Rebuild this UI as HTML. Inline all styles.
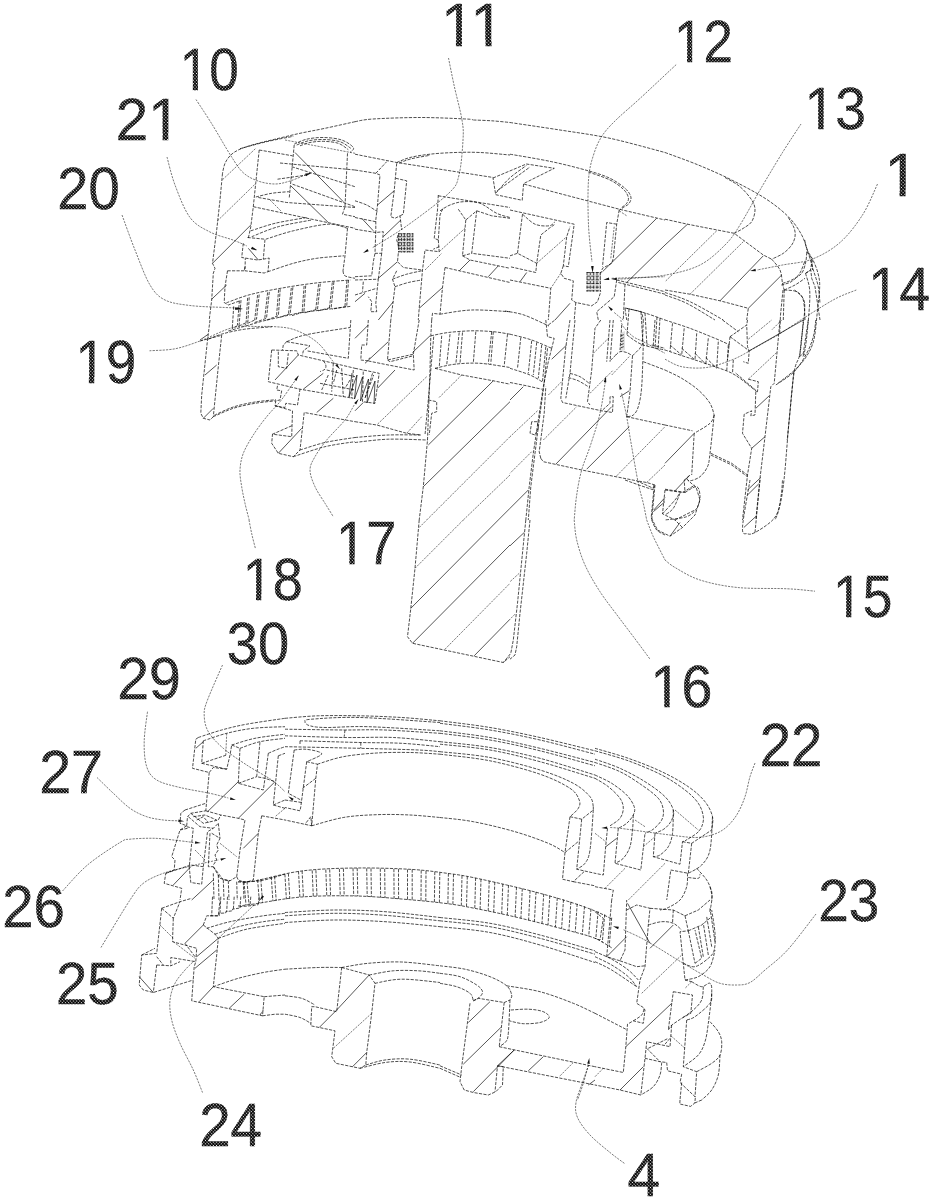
<!DOCTYPE html><html><head><meta charset="utf-8"><title>Figure</title><style>
html,body{margin:0;padding:0;background:#fff}body{width:933px;height:1200px;overflow:hidden}svg{display:block}
.l{fill:none;stroke:#000;stroke-opacity:.82;stroke-width:.85;stroke-dasharray:3.2 1.3}.h{fill:none;stroke:#000;stroke-opacity:.74;stroke-width:.9}.g{fill:#000;fill-opacity:.12;stroke:none}.t{fill:none;stroke:#000;stroke-opacity:.62;stroke-width:.85;stroke-dasharray:2.2 1.1}.a{fill:#111;stroke:none}
text{font-family:"Liberation Sans",sans-serif;fill:url(#d);stroke:url(#d);stroke-width:.5}
</style></head><body>
<svg width="933" height="1200" viewBox="0 0 933 1200">
<defs><pattern id="d" width="2.4" height="2.4" patternUnits="userSpaceOnUse" patternTransform="rotate(45)"><rect width="2.4" height="2.4" fill="#000"/><circle cx="1.2" cy="1.2" r="0.68" fill="#fff"/></pattern></defs>
<path class="t" d="M196 99.5 C198.8 103.8 206.7 115.6 212.5 125 C218.3 134.4 225.9 148.1 231 156 C236.1 163.9 238.5 168.3 243 172.5 C247.5 176.7 252.7 179.1 258 181 C263.3 182.9 269.7 184 275 184 C280.3 184 285 182.5 290 181 C295 179.5 302.5 176 305 175 M167 157 C168.3 161.7 171.2 174.9 175 185 C178.8 195.1 184.2 209.7 190 217.5 C195.8 225.3 202.8 228.2 210 232 C217.2 235.8 226.8 237.7 233 240 C239.2 242.3 244.7 245 247 246 M122 215 C124.2 220.8 130.3 238.3 135 250 C139.7 261.7 145 276.7 150 285 C155 293.3 158.3 296.6 165 300 C171.7 303.4 180 304.2 190 305.5 C200 306.8 217 307.1 225 307.5 C233 307.9 235.8 307.9 238 308 M448.5 58 C449.4 62.5 451.8 74.7 454 85 C456.2 95.3 460.5 110.8 462 120 C463.5 129.2 463.5 130.8 463 140 C462.5 149.2 461.3 166.2 459 175 C456.7 183.8 457.5 184.7 449 193 C440.5 201.3 420.8 215.8 408 225 C395.2 234.2 378 244.2 372 248 M678.5 62.5 C672.2 68.3 651.4 87.9 641 97.5 C630.6 107.1 622.5 113.6 616 120 C609.5 126.4 605.8 130.2 602 136 C598.2 141.8 595.8 147.7 593.5 155 C591.2 162.3 589.3 168.3 588.5 180 C587.7 191.7 587.9 211.3 588.5 225 C589.1 238.7 591.4 255.8 592 262 M801 124 C797.9 128.8 789.3 141.5 782.5 152.5 C775.7 163.5 767.1 177.9 760 190 C752.9 202.1 745.8 215.8 740 225 C734.2 234.2 731.7 238.3 725 245 C718.3 251.7 709.8 260 700 265 C690.2 270 677.7 272.8 666 275 C654.3 277.2 638 277.8 630 278.5 C622 279.2 620 278.9 618 279 M877.5 184 C875 189.2 868.8 205.2 862.5 215 C856.2 224.8 848.3 235.2 840 242.5 C831.7 249.8 822.1 255.2 812.5 259 C802.9 262.8 791.8 263.2 782.5 265 C773.2 266.8 761.2 269.2 757 270 M149.5 350.8 C153.8 350.4 166.6 350.4 175 348.8 C183.4 347.1 190.3 344.5 200 341 C209.7 337.5 223.3 329.9 233 327.5 C242.7 325.1 251 326.6 258 326.5 C265 326.4 269.3 326.3 275 326.7 C280.7 327.1 286.5 327.4 292 329 C297.5 330.6 303.3 333.3 308 336 C312.7 338.7 316.3 341.4 320 345 C323.7 348.6 327.5 354.3 330 357.5 C332.5 360.7 334.2 362.9 335 364 M588.8 1065 C587.7 1067.9 584.6 1076.2 582.5 1082.5 C580.4 1088.8 576.8 1096.7 576 1102.5 C575.2 1108.3 575.2 1112.1 577.5 1117.5 C579.8 1122.9 584.6 1129.2 590 1135 C595.4 1140.8 604.2 1147.7 610 1152.5 C615.8 1157.3 622.5 1161.9 625 1163.8 M222.5 179.7 L255.8 148.3 M217.5 220.8 L255 184.2 M285 140 L355 153.3 M270 200 L281.7 211.7 M439.2 251.7 L465 228.3 M425 270 L441.7 253.3 M619.2 210.8 L626.7 215.8 M614.2 226.7 L610.8 258.3 M536.7 263.3 L566.7 236.7 M560.8 273.3 L550.8 288.3 M611.7 278.3 L665 276.7 M614.2 312.5 L623.3 320 M716.7 230.8 L665 281.7 M743.3 241.7 L690 294.2 M781.7 320 L771.7 330 M298.3 375.8 C297.1 377.6 293.9 382.4 290.8 386.7 C287.8 391 284 396.7 280 401.7 C276 406.7 271.1 411.1 266.7 416.7 C262.2 422.2 257.2 428.9 253.3 435 C249.4 441.1 245.6 447.5 243.3 453.3 C241.1 459.2 240.3 464.4 240 470 C239.7 475.6 240.8 481.1 241.7 486.7 C242.5 492.2 243.8 497.8 245 503.3 C246.2 508.9 248.5 517.2 249.2 520 M354.2 405 C352.6 407.5 349.6 414.2 345 420 C340.4 425.8 331.7 433.9 326.7 440 C321.7 446.1 317.8 451.7 315 456.7 C312.2 461.7 310 465 310 470 C310 475 312.5 481.1 315 486.7 C317.5 492.2 321.9 498.3 325 503.3 C328.1 508.3 331.9 514.4 333.3 516.7 M461.7 375 L438.3 398.3 M510 436.7 L426.7 520 M510 475 L463.3 520 M426.7 376.7 L376.7 425 M421.7 416.7 L406.7 433.3 M537.5 410.8 L510 436.7 M531.7 451.7 L510 473.3 M620.8 320 C621.2 321.1 621.2 323.9 623.3 326.7 C625.4 329.4 630 334.2 633.3 336.7 C636.7 339.2 638.1 338.9 643.3 341.7 C648.6 344.4 661.4 351.4 665 353.3 M548.3 395 L561.7 381.7 M543.3 440 L576.7 406.7 M616.7 475.8 L665 426.7 M646.7 482.5 L665 465 M590 393.3 L613.3 370 M611.7 375 L630 355.8 M593.3 353.3 L610 336.7 M605.8 378.3 C604.9 384.2 602.6 401.9 600 413.3 C597.4 424.7 593.1 437.2 590 446.7 C586.9 456.1 583.9 461.9 581.7 470 C579.4 478.1 577.9 486.7 576.7 495 C575.4 503.3 574.6 515.8 574.2 520 M621.7 393.3 C622.5 397.2 625 407.8 626.7 416.7 C628.3 425.6 629.7 435.6 631.7 446.7 C633.6 457.8 636.4 473.9 638.3 483.3 C640.3 492.8 641.9 497.2 643.3 503.3 C644.7 509.4 646.1 517.2 646.7 520 M665 359.2 C667.8 360.4 674.7 365.3 681.7 366.7 C688.6 368.1 698.3 368.6 706.7 367.5 C715 366.4 724.7 362.6 731.7 360 C738.6 357.4 745.6 353.1 748.3 351.7 M748.3 339.2 L771.7 320 M748.3 379.2 L776.7 352.5 M419.2 527.5 L426.7 520 M415 568.3 L463.3 520 M445 649.2 L510 583.3 M519.2 573.3 L510 581.7 M515 614.2 L510 619.2 M574.2 520 C574.6 523.3 574.9 532.5 576.7 540 C578.5 547.5 581.1 556.4 585 565 C588.9 573.6 594.4 583.1 600 591.7 C605.6 600.3 611.9 608.1 618.3 616.7 C624.7 625.3 633.1 636.2 638.3 643.3 C643.6 650.4 648.1 656.5 650 659.2 M646.7 520 C647.8 522.8 650.3 530 653.3 536.7 C656.4 543.3 663.1 556.1 665 560 M665 560 C666.7 561.2 669.2 564.2 675 567.5 C680.8 570.8 689.6 576.7 700 580 C710.4 583.3 722.9 586 737.5 587.5 C752.1 589 774.6 588.1 787.5 588.8 C800.4 589.4 810.4 590.8 815 591.2 M856.3 290 C853 291.4 843.8 294.4 836.3 298.3 C828.8 302.2 821.1 307.2 811.3 313.3 C801.6 319.4 783.6 331.4 778 335 M778 335 L748 351.7 M249 520 C249.5 522.5 250.9 530.2 252 535 C253.1 539.8 254.9 546.5 255.5 548.8 M147.5 711.7 C146.9 716.7 144.3 732.5 144.2 741.7 C144 750.8 144.6 760.3 146.7 766.7 C148.8 773.1 151.1 776.5 156.7 780 C162.2 783.5 171.1 785.3 180 787.5 C188.9 789.7 201.9 791.6 210 793.3 C218.1 795.1 225.3 797.2 228.3 798 M222.5 665 C220 670.8 210.6 691.7 207.5 700 C204.4 708.3 204 709.7 204.2 715 C204.3 720.3 205.1 726.1 208.3 731.7 C211.5 737.2 216.9 742.8 223.3 748.3 C229.7 753.9 238.6 759.7 246.7 765 C254.7 770.3 265.3 775.6 271.7 780 C278.1 784.4 282.8 789.7 285 791.7 M97 777.5 C99.6 780 107 787.4 112.5 792.5 C118 797.6 124.3 804.3 130 808.3 C135.7 812.4 141.1 814.7 146.7 816.7 C152.2 818.6 158.1 819.3 163.3 820 C168.6 820.7 175.8 820.7 178.3 820.8 M62.5 891 C66.7 886.7 77.9 873.1 87.5 865 C97.1 856.9 112.9 846.8 120 842.5 C127.1 838.2 124.2 839.9 130 839.2 C135.8 838.5 146.7 838.1 155 838.3 C163.3 838.6 173.6 840.1 180 840.8 C186.4 841.5 191.1 842.2 193.3 842.5 M101 947.5 C105.8 939.6 122.9 910.7 130 900 C137.1 889.3 137.8 887.8 143.3 883.3 C148.9 878.9 155.8 876.1 163.3 873.3 C170.8 870.6 180.6 868.6 188.3 866.7 C196.1 864.7 205 862.8 210 861.7 C215 860.6 216.9 860.3 218.3 860 M226.7 733.3 L225.8 755 M285 808.3 L275 816.7 M195 850 L205 860 M220 843.3 L236.7 856.7 M755 763 C754.2 765.3 751.7 771.1 750 776.7 C748.3 782.3 747.2 790.3 745 796.7 C742.8 803.1 740 809.7 736.7 815 C733.3 820.3 729.2 825 725 828.3 C720.8 831.7 716.7 833.5 711.7 835 C706.7 836.5 701.9 837.5 695 837.5 C688.1 837.5 678.3 836 670 835 C661.7 834 653.3 832.8 645 831.7 C636.7 830.6 625.8 829 620 828.3 C614.2 827.6 611.7 827.6 610 827.5 M595 833.3 L605.8 841.7 M635 820 L645 826.7 M675 810 L698.3 830 M643.3 846.7 L655 836.7 M625 868.3 L605 888.3 M665 863.3 L628.3 900 M202.5 1092.5 C201 1088.8 197.1 1078.2 193.3 1070 C189.6 1061.8 183.6 1051.7 180 1043.3 C176.4 1035 173.3 1027.2 171.7 1020 C170 1012.8 169.4 1006.1 170 1000 C170.6 993.9 172.5 988.3 175 983.3 C177.5 978.3 181.8 973.8 185 970 C188.2 966.2 192.6 962.4 194.2 960.8 M160 925 L173.3 938.3 M173.3 941.7 L195 958.3 M254.2 905 L218.3 938.3 M371.7 1013.3 L333.3 1048.3 M573.3 1062.5 L559.2 1076.7 M588.3 1065 C587.5 1068.1 585.1 1077.5 583.3 1083.3 C581.5 1089.2 578.5 1097.2 577.5 1100 M816 914 C811.2 920 796 940.7 787.5 950 C779 959.3 771.2 964.6 765 970 C758.8 975.4 754.7 980 750 982.5 C745.3 985 741.7 984.9 736.7 985 C731.7 985.1 725.6 985 720 983.3 C714.4 981.7 709.4 978.3 703.3 975 C697.2 971.7 690.3 967.5 683.3 963.3 C676.4 959.2 668.6 954.2 661.7 950 C654.7 945.8 648.1 941.7 641.7 938.3 C635.3 934.9 626.4 931.1 623.3 929.7 M641.7 993.3 L681.7 955 M685 1048.3 L670 1035 M595 1076.7 L603.3 1068.3 M691.7 981.7 L685 988.3"/>
<path class="a" d="M311 173 L305.1 173.8 L306 176.2Z M257 250 L252.1 246.7 L251.2 249Z M243 309 L237.4 307.2 L237.1 309.7Z M363 253 L368.7 251.3 L367.5 249.1Z M592.5 272 L593.5 266.1 L591 266.3Z M611 279 L616.8 280.2 L616.8 277.8Z M750 271 L755.9 271.3 L755.5 268.8Z M256.7 250.5 L252.1 246.7 L250.9 248.9Z M311.3 173.3 L305.4 173.6 L306 176Z M240.8 309.2 L235.2 307.2 L234.9 309.7Z M592.8 272.5 L593.6 266.6 L591.1 266.8Z M603.3 279.7 L609.3 280 L608.9 277.5Z M608 306 L611.1 311.1 L612.9 309.3Z M298.7 375.5 L294.4 379.6 L296.4 381Z M340 369.2 L337.2 363.9 L335.3 365.5Z M605.8 376.3 L603.8 381.9 L606.3 382.2Z M619.2 383.8 L619.6 389.7 L622 389Z M358.6 399 L354.2 402.9 L356.2 404.4Z M259.6 900.6 L264.1 896.7 L262.1 895.2Z M235.8 800 L230.5 797.3 L229.9 799.8Z M184.2 821.3 L178.5 819.6 L178.3 822.1Z M200.8 843 L195.2 841.3 L194.9 843.8Z M226.3 858 L220.4 858.4 L221.1 860.8Z M288.3 796.3 L292.2 800.8 L293.7 798.8Z M601.3 828 L607.2 828.9 L607.1 826.4Z M589.3 1058 L587.2 1063.5 L589.7 1063.9Z M613 926.2 L618.1 929.2 L618.9 926.8Z"/>
<path class="l" d="M355 121.7 C350 122.8 334.2 126.4 325 128.3 C315.8 130.3 308.3 131.5 300 133.3 C291.7 135.1 282.5 137.4 275 139.2 C267.5 141 260.8 142.5 255 144.2 C249.2 145.8 244 147.4 240 149.2 C236 151 233.3 152.6 230.8 155 C228.3 157.4 226.4 160.3 225 163.3 C223.6 166.4 222.9 171.7 222.5 173.3 M222.5 173.3 L220 200 L216.7 230 L212.5 263.3 L215 268.3 L213.3 273.3 L211.7 300 L209.2 320 M240 148.7 C244.4 147.5 257.8 143.7 266.7 141.7 C275.6 139.6 288.9 137.2 293.3 136.3 M259.2 150 L255.8 182.5 L253.3 206.7 L250.8 226.7 L248.3 238.3 M259.2 150 L292.5 155.8 M294.2 145 L290.8 181.7 L289.2 198.3 M294.2 144.2 C296.2 143.3 301.8 140.3 306.7 139.2 C311.5 138.1 317.5 137.4 323.3 137.5 C329.2 137.6 336.7 138.3 341.7 140 C346.7 141.7 351.9 145.4 353.3 147.5 C354.7 149.6 350.6 151.7 350 152.5 M296.7 145 C298.6 144.3 303.9 141.8 308.3 140.8 C312.8 139.9 318.1 139.4 323.3 139.5 C328.6 139.6 335.4 140.2 340 141.7 C344.6 143.1 349 147.2 350.8 148.3 M300 145.8 C301.7 145.3 306.1 143.2 310 142.5 C313.9 141.8 318.6 141.2 323.3 141.3 C328.1 141.5 334.2 141.9 338.3 143.3 C342.5 144.7 346.7 148.6 348.3 149.7 M347.5 153.3 L345 206.7 L342.5 214.2 L355 216.7 M280 163 L355 170 M277.5 179.2 L306.7 175 M291.7 166.7 L355 186.7 M292.5 184.2 L355 206.7 M255.8 197 C258.5 196.4 266.1 194.2 271.7 193.3 C277.2 192.4 286.2 191.9 289.2 191.7 M258.3 197.5 L286.7 202.5 L355 207.5 M253.3 206.7 L311.7 219.2 L355 228.3 M250.8 230.8 C254.9 229.6 265.7 225.6 275 223.3 C284.3 221.1 301.4 218.5 306.7 217.5 M251.7 236.7 C256.1 235 268.3 229.4 278.3 226.7 C288.3 223.9 306.1 221.1 311.7 220 M265.8 239.2 C270.4 237.8 282.9 233.3 293.3 230.8 C303.8 228.3 319.3 224.6 328.3 224.2 C337.4 223.8 344.3 227.6 347.5 228.3 M247.5 237.5 L265 239.2 L263.3 259.2 M243.3 243.3 L241.7 257.5 L257.5 260 L263.3 259.2 L269.2 258 L268 271.7 L264.2 273 L245 270.8 L245.3 258.3 M268 271.7 C272.2 270.3 285.2 265.6 293.3 263.3 C301.4 261.1 308.2 259.6 316.7 258.3 C325.1 257.1 339.6 256.2 344.2 255.8 M347.5 228.3 L345 255.8 L343 270.8 M343 270.8 C343.3 271.7 343 274.6 345 275.8 C347 277.1 353.3 277.9 355 278.3 M227.5 270.8 L245 270.8 M227.5 270.8 L225 286.7 L224.2 302.5 L228.3 305 L240 300.8 M245 266.7 L244.2 270.8 M355 154.2 L396.7 162.5 L493.3 177.5 M396.7 162.5 C398.9 161.7 404.4 158.9 410 157.5 C415.6 156.1 422.5 155 430 154.2 C437.5 153.3 446.7 152.8 455 152.5 C463.3 152.2 470.8 152.1 480 152.5 C489.2 152.9 505 154.6 510 155 M399.2 163 C401.2 162.3 406.5 159.9 411.7 158.7 C416.8 157.4 426.9 155.9 430 155.3 M473.3 120 C476.4 120.1 485.6 120.4 491.7 120.8 C497.8 121.2 506.9 122.2 510 122.5 M355 170 L375.8 173.3 L380 175 L377.5 205 L375.8 220 L375.8 230.8 M375.8 173.3 L386.7 161.7 M355 200.8 C356.9 201.5 362.9 203.2 366.7 205 C370.4 206.8 375.7 210.6 377.5 211.7 M355 217.5 L375.8 221.7 M355 229.2 L375.8 232.5 L383.3 231.7 L381.7 253.3 L375 253.3 L375.8 230.8 M396.7 163.3 L394.2 190.8 L390.8 216.7 L395 218.3 L400 215.8 L401.7 230 M395.8 178.3 L406.7 180.8 L403.3 214.2 L400 215.8 M398.7 233.3 L398.7 252.5 M401.5 233.3 L401.5 252.5 M404.3 233.3 L404.3 252.5 M407.2 233.3 L407.2 252.5 M410 233.3 L410 252.5 M412.8 233.3 L412.8 252.5 M398 233.7 L413.3 233.7 M398 236.7 L413.3 236.7 M398 239.7 L413.3 239.7 M398 242.7 L413.3 242.7 M398 245.7 L413.3 245.7 M398 248.7 L413.3 248.7 M398 251.7 L413.3 251.7 M398 235 L396.7 240 L398.7 246.7 M398.3 253.3 L397.5 261.7 L403.3 267.5 L421.7 270 M396.7 270.8 L392.5 279.2 L395 286.7 L390.8 320 M395 286.7 C397.2 286 403.9 283.6 408.3 282.5 C412.8 281.4 419.4 280.4 421.7 280 M392.5 279.2 C394.9 278.3 401.8 275.6 406.7 274.2 C411.5 272.8 419.2 271.4 421.7 270.8 M438.3 195 L437.5 210 L434.2 238.3 L438.3 240 L440 215 L443.3 207.5 M438.3 195.8 L510 207.5 M440 210.8 C441.7 209.9 446.1 206.5 450 205 C453.9 203.5 458.3 201.9 463.3 201.7 C468.3 201.4 474.4 201.4 480 203.3 C485.6 205.3 491.7 211 496.7 213.3 C501.7 215.7 507.8 216.8 510 217.5 M438.3 240 L439.2 251.7 L425 250 L422.5 270 L419.2 308.3 L418.3 320 M439.2 246.7 L433.3 249.2 M458.3 209.2 L465.8 220 L476.7 210.8 L471.7 253.3 L510 258.3 M465.8 220 L462.5 255.8 L471.7 253.3 M462.5 255.8 L470 260 L510 268.3 M476.7 210.8 L491.7 215.8 L510 218.3 M445 267.5 L510 282.5 M445 267.5 L442.5 287.5 L440 314.2 L432.5 313.3 L431.7 320 M440 314.2 C445.3 313.5 460 310.4 471.7 310 C483.3 309.6 503.6 311.4 510 311.7 M355 276.7 L371.7 275.8 L373.3 261.7 L375 253.3 M355 280 L378.3 279.2 L375.8 303.3 L376.7 311.7 L370.8 311.7 L371.7 301.7 L368.3 296.7 M355 295 L376.7 288.3 M363.3 281.7 L362.5 291.7 M381.7 253.3 L378.3 279.2 M510 122.5 C518.3 123.8 543.3 127.4 560 130 C576.7 132.6 592.5 134.6 610 138.3 C627.5 142.1 655.8 150.1 665 152.5 M510 154.2 C516.9 155.4 538.6 158.9 551.7 161.7 C564.7 164.4 578.6 168.1 588.3 170.8 C598.1 173.6 603.9 175.4 610 178.3 C616.1 181.2 621.5 185.3 625 188.3 C628.5 191.4 630.1 194.2 630.8 196.7 C631.5 199.2 630.4 201.5 629.2 203.3 C627.9 205.1 625 206.4 623.3 207.5 C621.7 208.6 619.9 209.6 619.2 210 M588.3 172 C591.9 173.3 604.2 177.1 610 180 C615.8 182.9 620.3 186.3 623.3 189.2 C626.4 192.1 627.8 195.1 628.3 197.5 C628.9 199.9 627.8 201.7 626.7 203.3 C625.6 205 622.5 206.8 621.7 207.5 M524.2 184.2 L619.2 209.2 L665 220 M619.2 210 L616.7 224.2 L613.3 258.3 L611.7 263.3 L602.5 268.3 L600.8 273.3 M616.7 224.2 L606.7 222.5 L602.5 266.7 M510 210 L574.2 224.2 L568.3 266.7 L563.3 265.8 L566.7 236.7 L570 226.7 M522.5 214.2 L517.5 253.3 L536.7 263.3 L540.8 235 L549.2 228.3 L555 224.2 M522.5 214.2 C524.6 215.8 530.6 222.2 535 224.2 C539.4 226.1 545.8 226.2 549.2 225.8 C552.5 225.4 554 222.4 555 221.7 M510 255.8 L517.5 253.3 M536.7 263.3 L535.8 272.5 L510 266.7 M563.3 265.8 L560.8 273.3 L564.2 278.3 L573.3 280.8 L571.7 300 L575.8 302.5 L591.7 305.8 L597.5 301.7 L600.8 291.7 M510 280 L550.8 288.3 L548.3 320 M587 272 L587 291.7 M590.3 272 L590.3 291.7 M593.7 272 L593.7 291.7 M597 272 L597 291.7 M600.3 272 L600.3 291.7 M586.7 272.5 L600.8 272.5 M586.7 276.2 L600.8 276.2 M586.7 279.8 L600.8 279.8 M586.7 283.5 L600.8 283.5 M586.7 287.2 L600.8 287.2 M586.7 290.8 L600.8 290.8 M616.7 280 L665 291.7 M618.3 282.5 L665 294.2 M616.7 280 L614.2 296.7 L596.7 311.7 L598.3 320 M625 284.2 L623.3 320 M575.8 302.5 L574.2 320 M626.7 308.3 L641.7 311.7 L643.3 320 M625 308.3 L626.7 320 M665 152.5 C670.6 154.6 687.2 160.4 698.3 165 C709.4 169.6 720.6 174.4 731.7 180 C742.8 185.6 755.6 192.2 765 198.3 C774.4 204.4 782.2 210.6 788.3 216.7 C794.4 222.8 798.3 228.9 801.7 235 C805 241.1 806.4 247.5 808.3 253.3 C810.3 259.2 811.7 264.4 813.3 270 C815 275.6 817.2 281.1 818.3 286.7 C819.4 292.2 819.7 300.6 820 303.3 M725 177.5 C727.5 179 735.6 182.9 740 186.7 C744.4 190.4 749.2 196.1 751.7 200 C754.2 203.9 755 206.4 755 210 C755 213.6 753.6 218.6 751.7 221.7 C749.7 224.7 746.2 226.4 743.3 228.3 C740.4 230.3 735.7 232.5 734.2 233.3 M788.3 217.5 C789.3 219.3 793.1 225.1 794.2 228.3 C795.3 231.5 795.4 233.9 795 236.7 C794.6 239.4 793.6 242.2 791.7 245 C789.7 247.8 786.7 251 783.3 253.3 C780 255.7 773.6 258.2 771.7 259.2 M665 219.2 L687.5 224.2 L734.2 233.3 L763.3 255 L771.7 259.2 M771.7 259.2 C773.1 261 778.2 266 780 270 C781.8 274 781.8 280 782.5 283.3 C783.2 286.7 783.9 288.9 784.2 290 M665 290 L690 294.2 L720 300.8 L748.3 308.3 L746.7 320 M665 292.5 C669.2 294 680.3 297.1 690 301.7 C699.7 306.2 717.8 316.9 723.3 320 M665 295 C668.6 296.4 678.3 299.2 686.7 303.3 C695 307.5 710.3 317.2 715 320 M782.5 283.3 C784 282.8 788.5 281.7 791.7 280 C794.9 278.3 799.3 276.4 801.7 273.3 C804 270.3 805 265.3 805.8 261.7 C806.7 258.1 806.5 253.3 806.7 251.7 M784.2 290 C786 289.2 791.5 286.9 795 285 C798.5 283.1 803.3 279.4 805 278.3 M784.2 290 L783.3 320 M784.2 290 C786.2 290.3 793.5 290 796.7 291.7 C799.9 293.3 801.9 295.3 803.3 300 C804.7 304.7 804.7 316.7 805 320 M805.8 273.3 L810.8 270 L811.7 278.3 L815 286.7 L820 320 M806.7 251.7 L811.7 258.3 L812.5 270 M210 320 L207.5 340 L201.7 395 L200.8 413.3 L203.3 418.3 L210 420 L213.3 416.7 M221.7 335 L218.3 366.7 L213.3 416.7 M200 341 L221.7 335.3 M213.3 416.7 C216.7 415.3 226.4 410.6 233.3 408.3 C240.3 406.1 247.9 404.6 255 403.3 C262.1 402.1 272.4 401.2 275.8 400.8 M214.2 415.3 C217.4 413.9 226.5 409.2 233.3 407 C240.1 404.8 247.9 403.2 255 402 C262.1 400.8 272.4 400.1 275.8 399.7 M350.8 320 L348.3 358.3 L306.7 350.8 M286.7 341.7 C289.7 340.6 294.4 337.4 305 335 C315.6 332.6 342.5 328.8 350 327.5 M286.7 341.7 L283.3 345 L282.5 350 M286.7 341.7 L310 345.8 L303.3 350.8 L302.5 355 M271.7 350 L268.3 381.7 L300 389.2 L353.3 398.3 M271.7 350 L296.7 350.8 L298.3 355 L323.3 360.8 L355 368.3 M278.3 351.7 L278.3 366.7 L286.7 368.3 L288.3 353.3 M323.3 360.8 C323.8 361.5 325.6 363.6 325.8 365 C326.1 366.4 326 368.1 325 369.2 C324 370.3 320.8 371.2 320 371.7 M326.7 370 L355 376.7 M320 383.3 L355 390 M333.3 363.3 L331.7 391.7 M341.7 368.3 L343.3 396.7 M353.3 370 L351.7 398.3 M328.3 375 L321.7 390 M350 380 L345 388.3 M336.7 370 L333.3 383.3 M277.5 385.8 L276.7 390 L281.7 390.8 L280 400 L275.8 400.8 L275 405.8 L285 407.5 L285.8 403.3 L297.5 405 L300 389.2 M275 405.8 L292.5 410.8 L291.7 436.7 L272.5 434.2 L271.7 443.3 L278.3 453.3 L293.3 456.7 L300 450 L304.2 412.5 L355 421.7 M291.7 425.8 L272.5 434.2 M300 450 C304.2 448.8 315.8 444.6 325 442.5 C334.2 440.4 350 438.3 355 437.5 M293.3 456.7 C298.6 455 314.7 449.2 325 446.7 C335.3 444.2 350 442.5 355 441.7 M431.7 320 L430.8 335.8 L430 370 L427.5 440 L423.3 486.7 L419.2 520 M433.7 336.7 L430.8 370 L428.3 400 L425 435 M428.3 400 L436.7 401.7 L436.7 411.7 L431.7 413.3 L429.2 435 M430.8 335.8 C433.8 335.3 441.5 333.3 448.3 332.5 C455.1 331.7 464.2 331 471.7 330.8 C479.2 330.7 486.9 331.1 493.3 331.7 C499.7 332.2 507.2 333.8 510 334.2 M435 368.3 C438.3 367.6 447.5 365 455 364.2 C462.5 363.3 470.8 362.8 480 363.3 C489.2 363.9 505 366.8 510 367.5 M441.7 335.8 L439.2 367.5 M450 334.2 L446.7 365 M459.2 332.5 L455.8 364.2 M462.5 332.5 L460 363.3 M475.8 331.7 L473.3 363 M491.7 331.7 L488.3 363.7 M493.3 331.7 L490.8 363.7 M507.5 334.2 L504.2 365.8 M435 368.3 L461.7 375 L493.3 380.8 L510 384.2 M368.3 320 L366.7 345 L361.7 345 L360.8 360 L367.5 360.8 L370 357.5 M390.8 320 L387.5 360 L413.3 354.2 L414.2 370 L384.2 364.2 L367.5 360.8 M387.5 360 L390 361.7 L413.3 355.8 M419.2 320 L413.3 354.2 M355 368.3 L363.3 370 L379.2 373.3 L375 403.3 L362.5 401.7 L363.3 370 M372.5 373.3 L365 398.3 L373.7 375 M355 421.7 L376.7 425 L406.7 433.3 L420.8 435 M355 437.5 C360.6 437.1 377.4 435.4 388.3 435 C399.3 434.6 415.4 435 420.8 435 M355 442.5 C360.6 441.9 376.2 439.6 388.3 439.2 C400.4 438.8 421 439.9 427.5 440 M551.7 348.3 L548.3 361.7 L543.3 386.7 L538.3 420 L533.3 453.3 L529.2 486.7 L525.8 520 M547.5 348.3 L544.2 383.3 L539.2 420 L535 453.3 L530.8 486.7 L528.3 520 M531.7 421.7 L530 433.3 L535 435 L538.3 428.3 L537.5 421.7 L531.7 421.7 M510 334.2 C513.6 335.1 524.7 337.6 531.7 340 C538.6 342.4 548.3 346.9 551.7 348.3 M510 368.3 C513.3 369.4 524.4 372.6 530 375 C535.6 377.4 541.1 381.2 543.3 382.5 M520.8 337.5 L517.5 368.3 M531.7 340.8 L528.3 373.3 M536.7 342.5 L533.3 375 M541.7 345 L538.3 378.3 M545.8 346.7 L542.5 381.7 M510 382.5 L526.7 385.8 L541.7 389.2 M545.8 320 L547.5 336.7 L554.2 338.3 L551.7 348.3 M548.3 325 L555 320 M570 320 L565.8 346.7 L560.8 398.3 L562.5 402.5 L601.7 410.8 L612.5 412.5 L613.3 396.7 L610 396.7 L610 403.3 L601.7 410.8 M575 320 L570 373.3 L565.8 398.3 M570 373.3 C571.7 373.9 576.8 375 580 376.7 C583.2 378.3 587.6 382.2 589.2 383.3 M568.3 377.5 C570 378.1 575 379.3 578.3 380.8 C581.7 382.4 586.7 385.7 588.3 386.7 M600.8 320 L595 328.3 L591.7 370 L587.5 401.7 L590 405 M610 320 L606.7 361.7 M613.3 320 L610 361.7 M615.8 355 L610 360.8 M615.8 355 C616.5 354.4 618.2 352.1 620 351.7 C621.8 351.2 624.6 351.8 626.7 352.5 C628.8 353.2 631.5 355.3 632.5 355.8 M632.5 355.8 L630 391.7 L626.7 416.7 M632.5 355.8 L640 348.3 L643.3 341.7 M643.3 343.3 C643.1 350.6 642.5 376.1 641.7 386.7 C640.8 397.2 639.7 401.9 638.3 406.7 C636.9 411.4 635.3 413.3 633.3 415 C631.4 416.7 627.8 416.4 626.7 416.7 M621.7 325 L620 350 M620.8 335.8 L625 334.2 M620.8 338.8 L625 337.2 M620.8 341.8 L625 340.2 M620.8 344.8 L625 343.2 M620.8 347.8 L625 346.2 M540.8 458.3 L543.3 461.7 L581.7 470 L636.7 480.8 L653.3 488.3 L655 485 L646.7 482.5 L636.7 480.8 M655 485 L651.7 520 M540.8 458.3 L539.2 451.7 L544.2 413.3 L545.8 386.7 M626.7 416.7 L665 425 M643.3 361.7 L665 370 M651.7 345 L665 348.3 M655 320 L653.3 345 M643.3 320 L642.5 341.7 M665 320 C669.2 321.4 681.7 325.3 690 328.3 C698.3 331.4 708.3 335.6 715 338.3 C721.7 341.1 727.5 343.9 730 345 M665 350 C669.2 351.4 681.7 355.6 690 358.3 C698.3 361.1 707.5 363.9 715 366.7 C722.5 369.4 728.1 370.8 735 375 C741.9 379.2 753.1 388.9 756.7 391.7 M672.5 323.3 L670 351.7 M684.2 328.3 L681.7 355 M696.7 333.3 L695 360 M708.3 338.3 L705.8 364.2 M718.3 341.7 L716.7 368.3 M728.3 345 L726.7 371.7 M733.3 360 L732.5 373.3 M670 345 L681.7 355 M681.7 348.3 L695 360 M695 353.3 L705.8 364.2 M705.8 357.5 L716.7 368.3 M730 336.7 L746.7 325 L747.5 346.7 L749.2 350.8 L748.3 363.3 L743.3 361.7 M730 336.7 L749.2 350.8 M730 336.7 L727.5 360 M747.5 320 L746.7 325 M722.5 320 L738.3 331.7 M665 370 C667.8 371.4 676.1 375 681.7 378.3 C687.2 381.7 693.6 385.8 698.3 390 C703.1 394.2 707.4 399.2 710 403.3 C712.6 407.5 713.5 413.1 714.2 415 M714.2 415 C713.5 421.4 711.1 444.7 710 453.3 C708.9 461.9 709.2 462.8 707.5 466.7 C705.8 470.6 702.9 474.3 700 476.7 C697.1 479 692.2 480.6 690 480.8 C687.8 481.1 687.2 478.8 686.7 478.3 M714.2 415 C713.5 416.4 713.3 420.3 710 423.3 C706.7 426.4 696.8 431.7 694.2 433.3 M694.2 433.3 L691.7 475 M665 425 L692.5 430.8 M710.8 453.3 L731.7 463.3 L747.5 475 M710.8 455 L731.7 465 L747.5 476.7 M780 320 L774.2 383.3 L770.8 386.7 L765 436.7 L760 478.3 L755.8 520 M803.3 320 C802.8 325.6 801.5 344.7 800 353.3 C798.5 361.9 796 360.6 794.2 371.7 C792.4 382.8 790.7 403.6 789.2 420 C787.6 436.4 786.2 457.2 785 470 C783.8 482.8 782.8 489.7 781.7 496.7 C780.6 503.6 779.4 507.8 778.3 511.7 C777.2 515.6 775.6 518.6 775 520 M815.8 320 C815.4 322.8 814.9 331.1 813.3 336.7 C811.8 342.2 809.9 347.5 806.7 353.3 C803.5 359.2 799.3 366.4 794.2 371.7 C789 376.9 778.9 382.8 775.8 385 M808.3 320 L803.3 353.3 M748.3 379.2 L758.3 381.7 L757.5 391.7 L735 372.5 M755.8 391.7 L755 415 L750.8 415.8 L751.7 410.8 L744.2 414.2 L742.5 433.3 L751.7 448.3 L747.5 475 L742.5 520 M665 489.2 L675 490.8 L685 492.5 L684.2 480 L690 475 M685 492.5 C686.9 491.5 694.2 486 696.7 486.7 C699.2 487.4 700 493.1 700 496.7 C700 500.3 698.9 505 696.7 508.3 C694.4 511.7 691.9 514.7 686.7 516.7 C681.4 518.6 668.6 519.4 665 520 M680 493.3 C678.9 495.8 675.8 504.7 673.3 508.3 C670.8 511.9 666.4 513.9 665 515 M419.2 520 L415 568.3 L410.8 608.3 L407.5 636.7 L412.5 643.3 L503.3 662.5 L510 656.7 M525.8 520 L523.3 545 L517.5 603.3 L513.3 640 L510.8 653.3 L506.7 658.3 L503.3 662.5 M530 520 L526.7 553.3 L520 613.3 L516.7 646.7 L515 655 L510 659.2 M651.7 520 C652.5 521.7 654.4 527.5 656.7 530 C658.9 532.5 663.6 534.2 665 535 M625 480 L638.8 485 L653.8 490 L651.2 517.5 L657.5 530 L670 536.2 L682.5 527.5 L695 515 L700 500 L696.2 487.5 L687.5 480 M665 490 L662.5 513.8 L675 520 L682.5 527.5 M665 490 L682.5 492.5 L695 485 M662.5 513.8 C664.6 511.5 672.1 503.5 675 500 C677.9 496.5 679.2 493.8 680 492.5 M675 520 L695 510 M653.8 485 L653.8 490 M750 480 C748.8 487.9 742.9 518.5 742.5 527.5 C742.1 536.5 745.4 532.9 747.5 533.8 C749.6 534.6 751.2 534.4 755 532.5 C758.8 530.6 766.2 525.8 770 522.5 C773.8 519.2 775.6 517.1 777.5 512.5 C779.4 507.9 780.4 500.4 781.2 495 C782.1 489.6 782.3 482.5 782.5 480 M760 480 L755 532.5 M804.7 240 C805.1 241.7 805.8 246.7 807.2 250 C808.6 253.3 811.2 256.1 813 260 C814.8 263.9 816.9 268.9 818 273.3 C819.1 277.8 819.8 280 819.7 286.7 C819.5 293.3 818.1 304.4 817.2 313.3 C816.2 322.2 815.6 332.8 813.8 340 C812 347.2 809.5 351.7 806.3 356.7 C803.1 361.7 799.4 365.6 794.7 370 C789.9 374.4 780.8 381.1 778 383.3 M805.5 273.3 C806.2 276.1 809.1 283.1 809.7 290 C810.2 296.9 809.5 305.6 808.8 315 C808.1 324.4 806.5 339.7 805.5 346.7 C804.5 353.6 803.4 355 803 356.7 M794.7 290 C796.1 291.4 801.3 295 803 298.3 C804.7 301.7 804.9 303.1 804.7 310 C804.4 316.9 802.2 332.2 801.3 340 C800.5 347.8 799.9 353.9 799.7 356.7 M783 290 L780.5 315 L779.7 333.3 M781.3 285 C783 284.4 788.3 283.6 791.3 281.7 C794.4 279.7 797.4 276.7 799.7 273.3 C801.9 270 803.8 263.6 804.7 261.7 M805.5 273.3 L810.5 270 L812.2 260 M799.7 356.7 L803 353.3 L806.3 356.7 M793.8 371.7 L790.5 406.7 L787.2 440 M355 121.7 C358 121.2 362.1 119.7 373 119 C383.9 118.3 405 117.5 420.5 117.5 C436 117.5 457.2 118.6 466 119 C474.8 119.4 471.8 119.8 473 120 M625 308 C628.3 308.8 638.3 311 645 313 C651.7 315 661.7 318.8 665 320 M627 335 C629.5 336.6 635.5 342 641.8 344.5 C648.1 347 661.1 349.1 665 350 M629 309 L627 335 M641 312 L643 344 M645 313 L647 346 M657 317 L655 349 M660 318 L658 350 M505 311 C508.2 311.7 516.7 312.5 524 315 C531.3 317.5 544.8 324.2 549 326 M493 178 L526.4 164 L554.3 168.3 L523.6 183.6 L522.2 200.3 L495.7 194.7 L493 178 M495.7 193.3 C498 190.8 504.6 182.6 509.7 178 C514.8 173.4 523.6 167.6 526.4 165.5 M497 191 L530 167 M226.4 302.8 C230.4 301.4 241 297 250.1 294.6 C259.2 292.2 269.9 290.2 281.1 288.2 C292.3 286.2 306 284.1 317.5 282.8 C329.1 281.4 344.9 280.5 350.3 280 M228.3 331 L262.9 321 L299.3 312.8 L350.3 306.4 M241 300.1 L239.2 324.7 L231.9 328.7 M239.4 300.6 L237.4 325.4 M249.2 297.3 L247.9 321.9 L237.7 326.5 M247.6 297.9 L246.1 322.7 M259.2 294.6 L256.5 319.2 L244.7 324.7 M257.6 295.1 L254.7 319.9 M269.3 291.9 L266.5 318.3 L253.8 322.8 M267.6 292.4 L264.7 319 M280.2 289.1 L278.4 315.6 L266.5 320.1 M278.6 289.7 L276.5 316.3 M292.9 287.3 L290.2 313.7 L279.3 317.4 M291.3 287.9 L288.4 314.5 M305.7 285.5 L303.9 311.9 L292 315.6 M304.1 286 L302.1 312.6 M320.3 283.7 L317.5 309.2 L304.8 312.8 M318.6 284.2 L315.7 309.9 M333.9 281.8 L331.2 307.4 L317.5 311 M332.3 282.4 L329.4 308.1 M348.5 280 L346.7 306.4 L332.1 309.2 M346.9 280.6 L344.9 307.2 M208.2 339.2 C210.7 338.3 216.7 335.4 222.8 333.8 C228.9 332.1 236.5 330.4 244.7 329.2 C252.9 328.1 267.4 327.2 272 326.8 M233.7 306.4 L232.3 327.9 M198.3 737.5 C202.2 736.2 213.6 732.2 221.7 730 C229.7 727.8 236.1 726.1 246.7 724.2 C257.2 722.2 278.6 719.3 285 718.3 M203.3 740.8 C207.2 739.6 218.3 735.4 226.7 733.3 C235 731.2 243.6 729.4 253.3 728.3 C263.1 727.2 279.7 726.9 285 726.7 M231.7 745 C235.6 743.9 246.1 740.1 255 738.3 C263.9 736.5 280 734.9 285 734.2 M240 748.3 C243.3 747.2 252.5 743.3 260 741.7 C267.5 740 280.8 738.9 285 738.3 M268.3 753.3 C269.7 752.7 273.9 750.8 276.7 749.7 C279.4 748.6 283.6 747.2 285 746.7 M278.3 755.8 L285 753.3 M198.3 737.5 L195.8 739.2 L192.5 768.3 L209.2 772.5 L213.3 767.5 L226.7 769.2 L230 755 L231.7 745 M203.3 740.8 L201.7 763.3 L226.7 769.2 M201.7 763.3 L226.7 755 M231.7 745 L240 748.3 L238.3 783.3 L263.3 790 L265 778.3 L256.7 776.7 L260 741.7 M238.3 783.3 L256.7 776.7 M268.3 753.3 L265 778.3 L275 781.7 M278.3 755.8 L273.3 805 L285 808.3 M273.3 805 L285 800 M209.2 772.5 L205.8 810.8 M205.8 810.8 L220.8 815 L238.3 818.3 L245 820 L243.3 830 L240 850 L236.7 876.7 L230 880.8 L220 878.3 L213.3 866.7 M261.7 815.8 L285 820 M261.7 815.8 L258.3 833.3 L253.3 880 L245 882.5 L238.3 880 L236.7 876.7 M185 810 L205.8 803.3 M185 810 L180.8 813.3 L180 823.3 L186.7 825.8 L187.5 816.7 L190.8 813.3 L205.8 810.8 M186.7 825.8 L180 830 L171.7 856.7 L175 860 L174.2 870 L165.8 873.3 L164.2 883.3 L181.7 888.3 L180 900 M186.7 826.7 L193.3 828.3 L189.2 866.7 L190.8 882.5 L201.7 884.2 L203.3 866.7 L207.5 831.7 L213.3 828.3 L218.3 823.3 M180 830 L187.5 828.3 M188.3 816.7 L200 826.7 L213.3 828.3 M190.8 813.3 L203.3 823.3 L218.3 820 L220.8 815 M193.3 816.7 L205 815 L216.7 820 M196.7 820 L203.3 816.7 L208.3 822.5 M210 833.3 L208.3 866.7 L213.3 866.7 M211.7 833.3 L220 838.3 L216.7 845 L218.3 850 L215 855 L216.7 860 L213.3 865 M218.3 823.3 L220 838.3 M165.8 873.3 L190.8 865 L203.3 866.7 M213.3 866.7 L223.3 880 L230 880.8 M238.3 881.7 C241.9 881.5 252.2 882.1 260 880.8 C267.8 879.6 280.8 875.3 285 874.2 M213.3 873.3 L214 900 M218.3 875 L219 900 M223.3 880 L224 900 M228.3 880.8 L229 900 M236.7 881.7 L237.3 900 M243.3 882 L244 900 M285 718.3 C290.6 717.9 305.8 716.2 318.3 715.8 C330.8 715.4 346.1 715.6 360 715.8 C373.9 716.1 388.3 716.7 401.7 717.5 C415 718.3 433.6 720.3 440 720.8 M440 722.5 C426.7 721.7 381.4 718.1 360 717.5 C338.6 716.9 320.8 718.5 311.7 719.2 C302.5 719.9 305.3 720.6 305 721.7 C304.7 722.8 306.4 724.9 310 725.8 C313.6 726.8 316.9 727.4 326.7 727.5 C336.4 727.6 349.4 726.1 368.3 726.7 C387.2 727.2 428.1 730.1 440 730.8 M285 729.2 C294.7 729.3 326.7 729.9 343.3 730 C360 730.1 368.9 729.4 385 730 C401.1 730.6 430.8 732.8 440 733.3 M285 735.8 C294.7 736.1 325.3 737.2 343.3 737.5 C361.4 737.8 377.2 736.8 393.3 737.5 C409.4 738.2 432.2 741 440 741.7 M300 740.8 C310 741.1 343.1 742.1 360 742.5 C376.9 742.9 388.3 742.6 401.7 743.3 C415 744 433.6 746.1 440 746.7 M285 746.7 C297.5 746.9 337.8 747.8 360 748.3 C382.2 748.9 405 749.4 418.3 750 C431.7 750.6 436.4 751.4 440 751.7 M345 730 L344.2 736.7 M300 740.8 L300 745 M360.8 742.5 L360.8 748.3 M317.5 764.2 C321.8 762.9 333.5 758.5 343.3 756.7 C353.2 754.8 365.6 753.7 376.7 753 C387.8 752.3 399.4 752.3 410 752.5 C420.6 752.7 435 753.9 440 754.2 M294.2 750 C296 749.9 301 748.9 305 749.2 C309 749.4 315.7 750.7 318.3 751.7 C321 752.6 322.8 753.3 320.8 755 C318.9 756.7 309 760.6 306.7 761.7 M306.7 761.7 L317.5 764.2 L315.8 778.3 L311.7 825.8 L285 820 M294.2 750 L288.3 793.3 L300.8 800 M306.7 761.7 L300.8 806.7 L300 810.8 L285 807.5 M315.8 778.3 L302.5 788.3 M311.7 825.8 L310.8 816.7 L305 824.2 M285 800 L301.7 802.5 M311.7 825.8 C316.9 824.4 332.5 819.4 343.3 817.5 C354.2 815.6 365.6 815.1 376.7 814.7 C387.8 814.2 399.4 814.5 410 815 C420.6 815.5 435 817.1 440 817.5 M440 720.8 C448.3 721.9 473.3 724.7 490 727.5 C506.7 730.3 522.5 733.6 540 737.5 C557.5 741.4 585.8 748.6 595 750.8 M440 723.3 C448.3 724.4 473.3 727.2 490 730 C506.7 732.8 522.5 736 540 740 C557.5 744 585.8 751.8 595 754.2 M440 730.8 C448.3 731.9 473.3 734.6 490 737.5 C506.7 740.4 522.5 744.2 540 748.3 C557.5 752.5 585.8 760.1 595 762.5 M440 733.3 C448.3 734.4 473.3 737.1 490 740 C506.7 742.9 522.5 746.5 540 750.8 C557.5 755.1 585.8 763.3 595 765.8 M440 741.7 C448.3 742.6 473.3 744.7 490 747.5 C506.7 750.3 522.5 753.8 540 758.3 C557.5 762.9 585.8 772.2 595 775 M440 744.2 C448.3 745.1 473.3 747.1 490 750 C506.7 752.9 522.5 756.9 540 761.7 C557.5 766.4 585.8 775.6 595 778.3 M440 751.7 C448.3 752.6 473.3 754.4 490 757.5 C506.7 760.6 526.1 765.7 540 770 C553.9 774.3 565 778.9 573.3 783.3 C581.7 787.8 586.7 792.8 590 796.7 C593.3 800.6 592.8 805 593.3 806.7 M440 754.2 C448.3 755.3 473.3 757.5 490 760.8 C506.7 764.2 526.7 769.6 540 774.2 C553.3 778.8 563.5 784 570 788.3 C576.5 792.6 577.8 796.7 579.2 800 C580.6 803.3 579.9 805.6 578.3 808.3 C576.8 811.1 571.4 815.3 570 816.7 M440 817.5 C445.6 818.2 460.8 819.3 473.3 821.7 C485.8 824 502.5 828.1 515 831.7 C527.5 835.3 540 839.9 548.3 843.3 C556.7 846.8 562.2 851 565 852.5 M570 816.7 L581.7 819.2 L593.3 810 L593.3 806.7 M570 816.7 L565 852.5 L562.5 879.2 L573.3 881.7 L585 870.8 M581.7 819.2 L576.7 869.2 L595 873.3 M565 852.5 L579.2 840.8 M593.3 810 C592.8 816.7 591.4 841.1 590 850 C588.6 858.9 587.2 860.1 585 863.3 C582.8 866.5 578.1 868.2 576.7 869.2 M573.3 881.7 L595 885.8 M595 748.3 C600.6 750 617.2 754.4 628.3 758.3 C639.4 762.2 651.7 766.9 661.7 771.7 C671.7 776.4 681.1 781.7 688.3 786.7 C695.6 791.7 701 796.7 705 801.7 C709 806.7 711.4 811.9 712.5 816.7 C713.6 821.4 711.8 827.8 711.7 830 M595 750.8 C600.6 752.5 617.2 756.8 628.3 760.8 C639.4 764.9 652.2 770.1 661.7 775 C671.1 779.9 678.9 785.3 685 790 C691.1 794.7 695.3 798.9 698.3 803.3 C701.4 807.8 702.8 812.8 703.3 816.7 C703.9 820.6 702.8 823.9 701.7 826.7 C700.6 829.4 699.4 831 696.7 833.3 C693.9 835.7 686.9 839.6 685 840.8 M595 759.2 C599.2 760.7 611.7 764.6 620 768.3 C628.3 772.1 637.5 776.9 645 781.7 C652.5 786.4 660.3 791.9 665 796.7 C669.7 801.4 672.2 806.1 673.3 810 C674.4 813.9 673.1 816.9 671.7 820 C670.3 823.1 667.8 826.1 665 828.3 C662.2 830.6 656.7 832.5 655 833.3 M595 762.5 C599.2 764 612.2 767.9 620 771.7 C627.8 775.4 635.3 780.6 641.7 785 C648.1 789.4 654.7 794.2 658.3 798.3 C661.9 802.5 662.8 806.4 663.3 810 C663.9 813.6 663.3 816.8 661.7 820 C660 823.2 656.1 826.9 653.3 829.2 C650.6 831.4 646.4 832.6 645 833.3 M595 775 C597.8 776.4 606.4 780 611.7 783.3 C616.9 786.7 622.9 791.1 626.7 795 C630.4 798.9 633.1 803.3 634.2 806.7 C635.3 810 634.6 812.2 633.3 815 C632.1 817.8 629.2 821.1 626.7 823.3 C624.2 825.6 619.7 827.5 618.3 828.3 M595 778.3 C597.2 779.7 604.2 783.3 608.3 786.7 C612.5 790 617.5 794.7 620 798.3 C622.5 801.9 623.3 805 623.3 808.3 C623.3 811.7 622.2 815.4 620 818.3 C617.8 821.2 611.7 824.6 610 825.8 M607.5 828.3 L605.8 845 L603.3 875 L595 873.3 M618.3 828.3 L615 863.3 L640.8 870 L645 833.3 M633.3 815 C633.2 817.5 633.1 824.7 632.5 830 C631.9 835.3 631.5 841.9 630 846.7 C628.5 851.4 625.8 855.6 623.3 858.3 C620.8 861.1 616.4 862.5 615 863.3 M655 833.3 L653.3 856.7 L680 864.2 L682.5 841.7 L685 840.8 M673.3 810 C673.2 813.9 673.3 827.2 672.5 833.3 C671.7 839.4 670.4 843.1 668.3 846.7 C666.2 850.3 662.5 853.3 660 855 C657.5 856.7 654.4 856.4 653.3 856.7 M682.5 841.7 L691.7 843.3 L711.7 830 M691.7 843.3 L688.3 873.3 L670.8 870 L666.7 900 M712.5 816.7 C712.1 822.2 711.8 841.9 710 850 C708.2 858.1 705.3 861.1 701.7 865 C698.1 868.9 690.6 871.9 688.3 873.3 M595 886.7 L613.3 890 L611.7 900 M696.7 868.3 C698.3 870.3 704.2 876.1 706.7 880 C709.2 883.9 710.8 888.3 711.7 891.7 C712.5 895 711.7 898.6 711.7 900 M688.3 877.5 C690 877.6 696.4 878.9 698.3 878.3 C700.3 877.8 699.7 874.9 700 874.2 M687.5 873.3 C687.4 875.6 687.9 882.2 686.7 886.7 C685.4 891.1 683.3 896.4 680 900 C676.7 903.6 670 906.7 666.7 908.3 C663.3 910 661.1 909.7 660 910 M710 886.7 C710.3 888.3 711.9 893.3 712 896.7 C712.1 900 711.2 904.2 710.8 906.7 C710.4 909.2 709.9 910.8 709.7 911.7 M161.7 908.3 L180 901.7 L191.7 898.3 M161.7 908.3 L156.7 953.3 L141.7 955 L139.2 985 L143.3 990 L153.3 992.5 L193.3 980 M161.7 908.3 L173.3 918.3 L180 901.7 M173.3 918.3 L172.5 941.7 L196.7 948.3 L195.8 961.7 L170.8 957.5 L170.8 965.8 L180 961.7 M141.7 955 L155 948.3 M156.7 965 L153.3 992.5 M156.7 965 L170.8 965.8 M156.7 956.7 L163.3 965 M185 943.3 L195 956.7 M203.3 925 L206.7 915.8 L218.3 915.8 L220 900 M203.3 925 L215 934.2 L218.3 938.3 L216.7 955 L213.3 986.7 L264.2 996.7 L262.5 1015.8 L191.7 1000.8 L194.2 966.7 L195.8 961.7 M264.2 996.7 L285 995 M262.5 1015.8 L275 1014.2 L285 1014.2 M260 1015 L263.3 1010 M206.7 928.3 C210.6 927.2 220.6 923.8 230 921.7 C239.4 919.6 254.2 917.2 263.3 915.8 C272.5 914.4 281.4 913.8 285 913.3 M215 934.2 C218.9 932.9 230.3 928.8 238.3 926.7 C246.4 924.6 255.6 922.9 263.3 921.7 C271.1 920.4 281.4 919.6 285 919.2 M218.3 938.3 C223.1 936.8 235.6 931.7 246.7 929.2 C257.8 926.7 278.6 924.3 285 923.3 M213.3 986.7 C217.5 985.3 230 980.7 238.3 978.3 C246.7 976 255.6 974 263.3 972.5 C271.1 971 281.4 969.7 285 969.2 M212.5 896.7 L211.7 915.8 M220.8 896.7 L220 913.3 M227.5 896.7 L226.7 911.7 M234.2 896.7 L233.3 910 M240.8 896.7 L240 907.5 M250.8 896.7 L250 905.8 M259.2 896.7 L258.3 904.7 M210 915.8 L219.2 915.8 L219.2 913.3 L225.8 913 L225.8 911.7 L232.5 910.8 L232.5 909.2 L240 908 L240 906.7 L250 905.8 L258.3 904.7 M285 912.5 C293.3 912.1 318.3 910.1 335 910 C351.7 909.9 367.5 910.4 385 911.7 C402.5 912.9 430.8 916.5 440 917.5 M285 915.8 C293.3 915.4 318.3 913.4 335 913.3 C351.7 913.2 367.5 914.1 385 915.3 C402.5 916.6 430.8 919.9 440 920.8 M285 922.5 C293.3 922.1 318.3 920.1 335 920 C351.7 919.9 367.5 920.6 385 921.7 C402.5 922.8 430.8 925.8 440 926.7 M285 969.2 C290.6 968.9 308.9 967.8 318.3 967.5 C327.8 967.2 337.8 967.5 341.7 967.5 M341.7 967.5 C346.1 966.8 358.3 964.2 368.3 963.3 C378.3 962.4 389.7 961.6 401.7 962 C413.6 962.4 433.6 965.2 440 965.8 M369.2 975 C373.2 974.3 385.1 971.5 393.3 970.8 C401.5 970.1 410.6 970.4 418.3 970.8 C426.1 971.2 436.4 972.9 440 973.3 M375 983.3 C379.4 982.6 390.8 979.3 401.7 979.2 C412.5 979 433.6 981.9 440 982.5 M341.7 967.5 L369.2 975 L375 983.3 L371.7 1013.3 L366.7 1052.5 L365.8 1065 L360 1068.3 L335.8 1063.3 L331.7 1056.7 L335 1030.8 L319.2 1027.5 L310.8 1025.8 L311.7 1006.7 L315 1006.7 L336.7 1011.7 L341.7 967.5 M285 995.8 C287.8 996.2 296.7 996.8 301.7 998.3 C306.7 999.9 312.8 1003.9 315 1005 M285 1014.2 C287.5 1014.7 295.7 1016 300 1017.5 C304.3 1019 309 1022.4 310.8 1023.3 M365.8 1065 C369 1064.2 377.6 1061 385 1060 C392.4 1059 400.8 1058.3 410 1059.2 C419.2 1060 435 1064 440 1065 M360 1068.3 C364.2 1067.4 376.7 1063.6 385 1062.5 C393.3 1061.4 400.8 1061 410 1062 C419.2 1063 435 1067.3 440 1068.3 M440 917.5 C448.3 918.5 473.3 920.4 490 923.3 C506.7 926.2 522.5 930.4 540 935 C557.5 939.6 585.8 948.2 595 950.8 M440 920.8 C448.3 921.8 473.3 923.8 490 926.7 C506.7 929.6 522.5 933.8 540 938.3 C557.5 942.9 585.8 951.5 595 954.2 M440 926.7 C448.3 927.6 473.3 929.4 490 932.5 C506.7 935.6 522.5 940 540 945 C557.5 950 585.8 959.6 595 962.5 M440 965.8 C444.2 966.4 456.7 967.4 465 969.2 C473.3 971 483.1 973.9 490 976.7 C496.9 979.4 503.1 982.8 506.7 985.8 C510.3 988.9 511.1 992.6 511.7 995 C512.2 997.4 510.3 999.2 510 1000 M440 973.3 C443.3 973.9 453.9 974.7 460 976.7 C466.1 978.6 472.9 982.5 476.7 985 C480.4 987.5 482.1 989.6 482.5 991.7 C482.9 993.8 480.7 996 479.2 997.5 C477.6 999 474.3 1000.3 473.3 1000.8 M440 983.3 C442.8 983.9 451.7 985 456.7 986.7 C461.7 988.3 467.2 991 470 993.3 C472.8 995.7 472.8 999.6 473.3 1000.8 M506.7 985.8 C512.2 986.8 528.9 988.8 540 991.7 C551.1 994.6 564.2 999.7 573.3 1003.3 C582.5 1006.9 591.4 1011.7 595 1013.3 M473.3 1000.8 L478.3 998.3 L504.2 1002.5 L510 1000 M504.2 1002.5 L499.2 1046.7 M510 1000 C509.7 1005.6 509 1026.4 508.3 1033.3 C507.6 1040.3 507.4 1039.4 505.8 1041.7 C504.3 1043.9 500.3 1045.8 499.2 1046.7 M470 1003.3 L461.7 1066.7 L460 1081.7 L464.2 1090 L473.3 1092.5 L488.3 1095 L495.8 1091.7 L502.5 1085 L503.3 1066.7 L497.5 1065.8 L495 1091.7 M499.2 1046.7 L595 1066.7 M497.5 1065.8 L595 1085 M510.8 1010 C513.8 1009.9 522.9 1008.9 528.3 1009.2 C533.8 1009.4 539.9 1010.3 543.3 1011.7 C546.8 1013.1 549.7 1015.7 549.2 1017.5 C548.6 1019.3 544.3 1021.5 540 1022.5 C535.7 1023.5 528.5 1023.9 523.3 1023.7 C518.2 1023.4 511.5 1021.3 509.2 1020.8 M440 1065.8 L461.7 1075 M440 1068.3 L460.8 1077.5 M611.7 900 L606.7 956.7 L620 960.8 L625 950 L626.7 900 M595 911.7 L603.3 918.3 L600 940 L595 938.3 M620 960.8 L636.7 966.7 L645 965.8 M595 951.7 C597.8 952.9 606.1 956.1 611.7 959.2 C617.2 962.2 623.9 966.5 628.3 970 C632.8 973.5 636.7 978.3 638.3 980 M595 956.7 C597.8 958.1 606.1 961.7 611.7 965 C617.2 968.3 624.2 973.1 628.3 976.7 C632.5 980.3 635.3 985 636.7 986.7 M595 961.7 C597.8 963.1 604.7 965.8 611.7 970 C618.6 974.2 632.5 983.9 636.7 986.7 M626.7 910 L636.7 905 L650 908.3 L648.3 925 L645 966.7 L640 980 L636.7 1003.3 L643.3 1007.5 L645 1010 L643.3 1023.3 L633.3 1020.8 L627.5 1024.2 L625.8 1046.7 L623.3 1072.5 L595 1066.7 M595 1013.3 L625.8 1029.2 M633.3 1020.8 C634.7 1019.9 639.9 1017.1 641.7 1015 C643.5 1012.9 643.8 1009.4 644.2 1008.3 M650 908.3 L673.3 910 L685 915.8 M648.3 925 C650.6 924.4 657.5 921.9 661.7 921.7 C665.8 921.4 670 921.9 673.3 923.3 C676.7 924.7 680.3 928.9 681.7 930 M673.3 910 L672.5 923.3 M685 915.8 L688.3 930.8 L680 931.7 L683.3 963.3 L685 980 L691.7 981.7 M685 915.8 L698.3 910 L710 900 M688.3 930.8 L701.7 925 L711.7 916.7 M688.3 930.8 L695 963.3 M683.3 963.3 C685.3 963.9 690.8 967.5 695 966.7 C699.2 965.8 705.1 961.1 708.3 958.3 C711.5 955.6 713.1 954.2 714.2 950 C715.3 945.8 715.4 940 715 933.3 C714.6 926.7 712.2 913.9 711.7 910 M695 963.3 L701.7 958.3 L695 930 M703.3 956.7 L698.3 926.7 M708.3 955 L703.3 923.3 M711.7 946.7 L706.7 916.7 M715 941.7 L710 908.3 M685 980 C687.2 979.4 694.2 978.9 698.3 976.7 C702.5 974.4 707.2 971.1 710 966.7 C712.8 962.2 714.2 952.8 715 950 M691.7 981.7 C693.3 982.5 698.6 986.4 701.7 986.7 C704.7 986.9 708.3 982.2 710 983.3 C711.7 984.4 711.9 986.7 711.7 993.3 C711.4 1000 709.4 1015.3 708.3 1023.3 C707.2 1031.4 706.7 1036.4 705 1041.7 C703.3 1046.9 701.9 1050.8 698.3 1055 C694.7 1059.2 685.8 1064.7 683.3 1066.7 M703.3 986.7 C703.1 988.9 703.3 996.1 701.7 1000 C700 1003.9 696.7 1006.9 693.3 1010 C690 1013.1 683.6 1016.9 681.7 1018.3 M711.7 993.3 C711.4 995 712.8 999.4 710 1003.3 C707.2 1007.2 698.9 1013.9 695 1016.7 C691.1 1019.4 688.1 1019.4 686.7 1020 M673.3 991.7 L692.5 995 L690.8 1013.3 L681.7 1018.3 L671.7 1025 L668.3 1030 L673.3 991.7 M671.7 1025 L670 1046.7 L658.3 1044.2 L646.7 1041.7 L645 1058.3 L640.8 1095 L620 1090 L595 1085 M670 1038.3 L665 1044.2 M686.7 1020 L683.3 1066.7 L696.7 1071.7 L695 1096.7 L680 1082.5 L681.7 1074.2 L667.5 1070.8 L666.7 1062.5 L660 1061.7 L645 1058.3 M646.7 1048.3 L660 1061.7 M648.3 1048.3 L668.3 1038.3 M696.7 1071.7 C699.2 1070.3 707.8 1066.1 711.7 1063.3 C715.6 1060.6 718.3 1058.6 720 1055 C721.7 1051.4 721.9 1045.6 721.7 1041.7 C721.4 1037.8 720.3 1035 718.3 1031.7 C716.4 1028.3 711.4 1023.3 710 1021.7 M720 1055 C719.7 1058.3 719.7 1069.2 718.3 1075 C716.9 1080.8 714.4 1085.8 711.7 1090 C708.9 1094.2 703.3 1098.3 701.7 1100 M681.7 1082.5 L680 1100 M661.7 1062.5 C661.4 1064.6 661.4 1071 660 1075 C658.6 1079 656.5 1083.3 653.3 1086.7 C650.1 1090 642.9 1093.6 640.8 1095 M680 1100 L679.8 1104 L690.6 1106.4 L694.8 1103 L695.5 1096 M701.7 1100 L694.8 1103 M238 882 C240.7 881.8 243.4 882.8 254 881 C264.6 879.2 284.3 873.2 301.5 871 C318.7 868.8 338.4 868.2 357 868 C375.6 867.8 397.5 868.5 413 869.5 C428.5 870.5 440 872.4 450 873.7 C460 875 463.6 875.6 473 877.5 C482.4 879.4 495.5 882.4 506.7 885 C517.9 887.6 529 890.3 540 893.3 C551 896.3 563.8 900 573 903 C582.2 906 588.5 908.3 595 911 C601.5 913.7 609.2 917.7 612 919 M238 906 C240.7 905.7 243.4 905.5 254 904 C264.6 902.5 284.3 898.3 301.5 897 C318.7 895.7 338.4 895.5 357 896 C375.6 896.5 397.5 898.7 413 900 C428.5 901.3 440 902.7 450 904 C460 905.3 463.6 906.2 473 908 C482.4 909.8 495.5 912.5 506.7 915 C517.9 917.5 529 920.2 540 923 C551 925.8 563.8 929.2 573 931.7 C582.2 934.2 588.5 935.6 595 938.3 C601.5 941 609.2 946.4 612 948 M244 881.5 L246 905 M247 881.3 L249 904.6 M257.6 879.8 L259.5 903.2 M260.8 879.2 L262.6 902.7 M271.3 877 L272.9 901.2 M274.6 876.3 L276.2 900.7 M284.9 874.2 L286.4 899.2 M288.4 873.5 L289.8 898.7 M298.5 871.3 L299.9 897.2 M302.1 870.9 L303.4 897 M312.2 870.4 L313.3 896.8 M315.9 870.2 L317 896.7 M325.8 869.6 L326.8 896.5 M329.7 869.4 L330.6 896.5 M339.4 868.9 L340.3 896.3 M343.4 868.7 L344.2 896.2 M353 868.2 L353.7 896.1 M357.2 868 L357.8 896.1 M366.7 868.3 L367.2 896.7 M371 868.4 L371.4 897 M380.3 868.6 L380.6 897.7 M384.7 868.8 L385 898 M393.9 869 L394.1 898.6 M398.5 869.1 L398.6 899 M407.5 869.4 L407.5 899.6 M412.2 869.5 L412.2 899.9 M421.2 870.4 L421 900.9 M426 871 L425.8 901.4 M434.8 871.9 L434.4 902.3 M439.8 872.5 L439.4 902.9 M448.4 873.5 L447.9 903.8 M453.5 874.2 L452.9 904.5 M462 875.6 L461.3 906 M467.3 876.4 L466.5 906.9 M475.6 877.9 L474.8 908.4 M481 879.1 L480.1 909.5 M489.2 880.9 L488.2 911.2 M494.8 882.1 L493.7 912.3 M502.8 883.9 L501.7 914 M508.5 885.1 L507.3 915.1 M516.5 887.1 L515.1 917 M522.3 888.5 L520.9 918.4 M530.1 890.5 L528.6 920.3 M536 891.9 L534.4 921.7 M543.7 893.9 L542 923.5 M549.8 895.7 L548 925.1 M557.3 897.8 L555.4 927.1 M563.5 899.6 L561.6 928.7 M570.9 901.8 L568.9 930.6 M577.2 903.8 L575.2 932.4 M584.5 906.4 L582.3 934.5 M591 908.7 L588.7 936.4 M598.1 911.4 L595.8 938.7 M604.7 914.4 L602.3 942.5 M611.7 917.7 L609.2 946.4"/>
<path class="h" d="M212.5 263.3 L250.8 225 M211.7 299.2 L226.7 285 M295 152.5 L343.3 201.7 M290.8 185.8 L328.3 222.5 M248.3 248.3 L258.3 260 M377.5 205 L394.2 190.8 M383.3 236.7 L400.8 220 M361.7 218.3 L373.3 230.8 M397.5 261.7 L378.3 278.3 M470 260 L459.2 270.8 M498.3 265.8 L488.3 276.7 M419.2 308.3 L442.5 287.5 M378.3 320 L393.3 301.7 M355 301.7 L365 293.3 M602.5 271.7 L656.7 218.3 M626.7 282.5 L665 245 M526.7 272.5 L520 281.7 M570 303.3 L555 320 M687.5 224.2 L665 245 M763.3 255.8 L720 300.8 M781.7 275 L748.3 308.3 M205 375 L216.7 365 M203.3 418.3 L213.3 408.3 M200 340 L208.3 334.2 M298.3 355 L275 380 M323.3 373.3 L303.3 389.2 M278.3 453.3 L301.7 428.3 M316.7 412.5 L333.3 398.3 M493.3 380.8 L428.3 445 M510 401.7 L423.3 486.7 M510 508.3 L498.3 520 M355 338.3 L368.3 325 M388.3 341.7 L365 363.3 M430 335.8 L412.5 352.5 M377.5 388.3 L395 370 M363.3 402.5 L355 410.8 M523.3 386.7 L510 400 M528.3 490 L510 508.3 M551.7 359.2 L566.7 345 M555.8 464.2 L611.7 406.7 M586.7 469.2 L629.2 426.7 M620 396.7 L629.2 390.8 M653.3 511.7 L665 501.7 M694.2 433.3 L665 463.3 M749.2 350.8 L803.3 320 M755.8 408.3 L769.2 395.8 M751.7 448.3 L765 436.7 M747.5 490 L760.8 477.5 M675 490.8 L690 475 M410.8 608.3 L498.3 520 M412.5 643.3 L510 545 M474.2 655.8 L510 619.2 M524.2 532.5 L510 545.8 M653.8 510 L665 497.5 M670 536.2 L680 522.5 M747.5 495 L758.8 483.8 M743.8 527.5 L756.2 516.2 M352 373 L349 397 L357 375 L354.5 399 L362.5 377 L360.5 401 L368.5 379 L367 403 L375 381 L374 404 M195.8 748.3 L203.3 741.7 M207.5 811.7 L238.3 781.7 M238.3 818.3 L275 781.7 M258.3 833.3 L243.3 848.3 M173.3 885 L190.8 866.7 M191.7 900 L213.3 880 M616.7 838.3 L605.8 846.7 M139.2 976.7 L153.3 992.5 M203.3 925 L185 943.3 M218.3 938.3 L196.7 956.7 M216.7 950 L195 968.3 M213.3 986.7 L199.2 1001.7 M244.2 994.2 L229.2 1008.3 M369.2 975 L336.7 1010 L319.2 1027.5 M366.7 1052.5 L352.5 1066.7 M514.2 1050 L497.5 1065.8 M514.2 1050 L473.3 1091.7 M490 1001.7 L468.3 1022.5 M500.8 1027.5 L463.3 1064.2 M543.3 1056.7 L528.3 1070.8 M595 1080 L588.3 1085 M606.7 956.7 L626.7 936.7 M627.5 903.3 L650 943.3 M650 948.3 L673.3 925 M625.8 1046.7 L671.7 1003.3 M620 1090 L643.3 1066.7"/>
<path class="g" d="M398.5 233.5 L413.5 233.5 L413.5 252.5 L399.5 252.5 L397 246 L397.5 238Z M586.8 272 L600.8 272 L600.8 291.6 L586.8 291.6Z M620 333 L625 331 L625 350 L620 352Z"/>
<text transform="translate(440.92 46.00) scale(1.0034 1)" font-size="60.87">11</text>
<text transform="translate(179.78 90.41) scale(0.8960 1)" font-size="59.15">10</text>
<text transform="translate(115.84 139.50) scale(0.9831 1)" font-size="59.29">21</text>
<text transform="translate(57.20 208.91) scale(0.9483 1)" font-size="59.15">20</text>
<text transform="translate(674.04 62.00) scale(0.8799 1)" font-size="60.00">12</text>
<text transform="translate(804.60 129.40) scale(0.9234 1)" font-size="59.86">13</text>
<text transform="translate(884.38 196.00) scale(1.0050 1)" font-size="61.23">1</text>
<text transform="translate(868.32 310.00) scale(0.9042 1)" font-size="61.59">14</text>
<text transform="translate(75.39 383.15) scale(0.9101 1)" font-size="60.21">19</text>
<text transform="translate(242.70 600.40) scale(0.9078 1)" font-size="59.51">18</text>
<text transform="translate(335.93 563.75) scale(0.8767 1)" font-size="61.96">17</text>
<text transform="translate(833.01 617.40) scale(0.8878 1)" font-size="60.00">15</text>
<text transform="translate(650.59 706.90) scale(0.9276 1)" font-size="59.86">16</text>
<text transform="translate(226.76 664.40) scale(0.9362 1)" font-size="59.86">30</text>
<text transform="translate(117.14 698.90) scale(0.9546 1)" font-size="59.86">29</text>
<text transform="translate(39.13 792.50) scale(0.9458 1)" font-size="60.71">27</text>
<text transform="translate(759.68 765.50) scale(0.9295 1)" font-size="60.71">22</text>
<text transform="translate(2.18 927.41) scale(0.9530 1)" font-size="59.15">26</text>
<text transform="translate(55.93 1004.40) scale(0.9418 1)" font-size="59.86">25</text>
<text transform="translate(818.25 921.40) scale(0.9172 1)" font-size="59.86">23</text>
<text transform="translate(199.17 1145.50) scale(0.9309 1)" font-size="60.71">24</text>
<text transform="translate(627.53 1196.00) scale(0.9660 1)" font-size="60.87">4</text>
<path fill="#fff" d="M443.97 39.72h11.97v8.28h-11.97z M461.93 39.72h11.60v8.28h-11.60z M473.59 39.72h11.97v8.28h-11.97z M491.55 39.72h11.60v8.28h-11.60z M182.43 84.28h10.39v8.12h-10.39z M198.01 84.28h10.07v8.12h-10.07z M151.16 133.36h11.42v8.14h-11.42z M168.30 133.36h11.07v8.14h-11.07z M676.68 55.80h10.35v8.20h-10.35z M692.20 55.80h10.03v8.20h-10.03z M807.37 123.21h10.83v8.19h-10.83z M823.62 123.21h10.50v8.19h-10.50z M887.46 189.69h12.06v8.31h-12.06z M905.55 189.69h11.69v8.31h-11.69z M871.11 303.66h10.92v8.34h-10.92z M887.48 303.66h10.58v8.34h-10.58z M78.13 376.93h10.74v8.22h-10.74z M94.24 376.93h10.41v8.22h-10.41z M245.40 594.25h10.59v8.16h-10.59z M261.28 594.25h10.26v8.16h-10.26z M338.64 557.37h10.65v8.38h-10.65z M354.61 557.37h10.32v8.38h-10.32z M835.67 611.20h10.44v8.20h-10.44z M851.33 611.20h10.12v8.20h-10.12z M653.36 700.71h10.88v8.19h-10.88z M669.69 700.71h10.55v8.19h-10.55z"/>
</svg></body></html>
